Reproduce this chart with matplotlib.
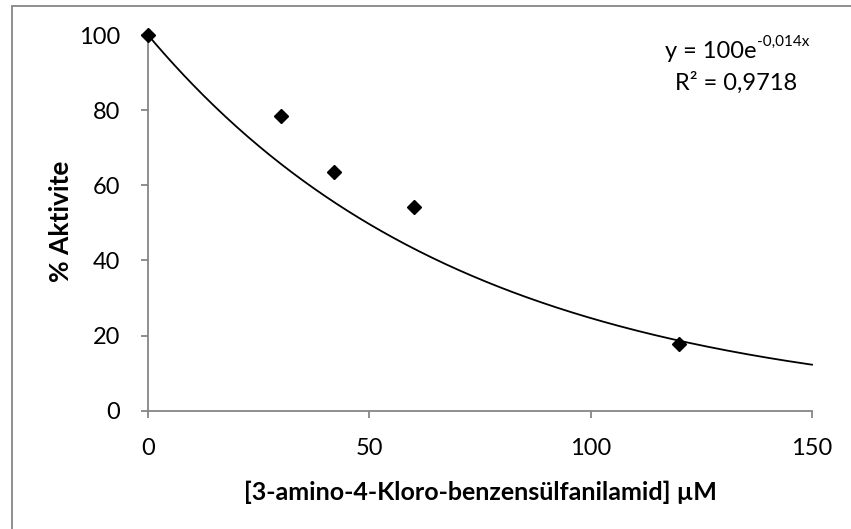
import numpy as np
import matplotlib
matplotlib.use('Agg')
import matplotlib.pyplot as plt
from matplotlib.patches import Rectangle

plt.rcParams['font.family'] = ['Lato', 'DejaVu Sans']

konsantrasyon = [0, 30, 42, 60, 120]
aktivite = [100, 78.5, 63.5, 54.1, 17.8]

# trend line from the chart: y = 100e^(-0,014x)
a = 100
b = -0.014
r2 = 0.9718

fig = plt.figure(figsize=(8.51, 5.29), dpi=100)
ax = fig.add_axes([148 / 851, 1 - 410.7 / 529, (812 - 148) / 851, (410.7 - 35) / 529])

# outer chart border
fig.patches.append(Rectangle((12 / 851, -0.1), 1.2, 1.1 - 6 / 529, transform=fig.transFigure,
                             fill=False, edgecolor='#868686', linewidth=1.3))

xs = np.linspace(0, 150, 300)
ax.plot(xs, a * np.exp(b * xs), color='black', linewidth=1.3, clip_on=False)
ax.plot(konsantrasyon, aktivite, linestyle='none', marker='D', markersize=7.5,
        color='black', clip_on=False, zorder=5)

ax.set_xlim(0, 150)
ax.set_ylim(0, 100)
ax.set_xticks([0, 50, 100, 150])
ax.set_yticks([0, 20, 40, 60, 80, 100])

for s in ['top', 'right']:
    ax.spines[s].set_visible(False)
for s in ['left', 'bottom']:
    ax.spines[s].set_color('#868686')
    ax.spines[s].set_linewidth(1.3)
ax.tick_params(direction='out', length=5, width=1.3, color='#868686',
               labelsize=17, labelcolor='black', pad=15)

ax.set_xlabel('[3-amino-4-Kloro-benzensülfanilamid] µM', fontsize=18, fontweight='bold')
ax.set_ylabel('% Aktivite', fontsize=19, fontweight='bold')
ax.xaxis.set_label_coords(480 / 851, 1 - 492 / 529, transform=fig.transFigure)
ax.yaxis.set_label_coords(61 / 851, 1 - 221 / 529, transform=fig.transFigure)
ax.xaxis.label.set_va('center')
ax.yaxis.label.set_va('center')

# equation with superscript exponent
t1 = fig.text(665 / 851, 1 - 58 / 529, 'y = 100e', fontsize=17, ha='left', va='baseline')
ax.annotate('-0,014x', xy=(1, 0.62), xycoords=t1, fontsize=11, ha='left', va='bottom')
fig.text(736 / 851, 1 - 90 / 529, 'R² = ' + str(r2).replace('.', ','), fontsize=17,
         ha='center', va='baseline')

fig.savefig('out.png', dpi=100)
